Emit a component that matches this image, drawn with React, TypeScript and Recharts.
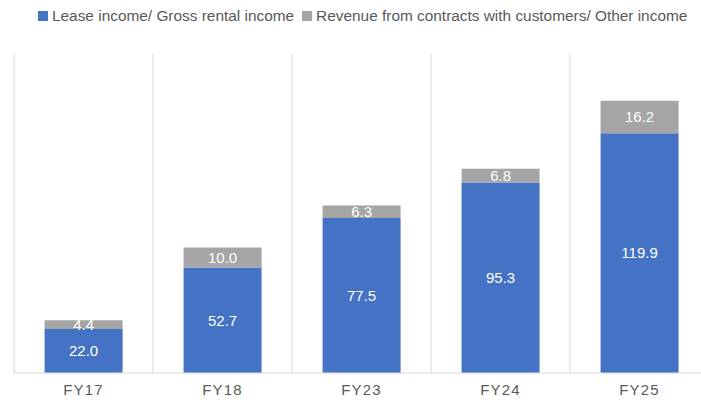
import React from "react";
import { Bar, BarChart, CartesianGrid, LabelList, XAxis, YAxis } from "recharts";

const years = ["FY17", "FY18", "FY23", "FY24", "FY25"];
const leaseIncome = [22.0, 52.7, 77.5, 95.3, 119.9];
const otherIncome = [4.4, 10.0, 6.3, 6.8, 16.2];

const seriesNames = ["Lease income/ Gross rental income", "Revenue from contracts with customers/ Other income"];
const seriesColors = ["#4472C4", "#A5A5A5"];

const data = years.map((year, i) => ({ year, lease: leaseIncome[i], other: otherIncome[i] }));

const fmt = (v: any) => Number(v).toFixed(1);
const font = "'Liberation Sans', Arial, sans-serif";

export default function App() {
  return (
    <div style={{ position: "absolute", left: 0, top: 0, width: 701, height: 402, overflow: "hidden", background: "#fff" }}>
      <div
        style={{
          position: "absolute",
          top: 7,
          left: 38,
          display: "flex",
          alignItems: "center",
          fontFamily: font,
          fontSize: 15.4,
          lineHeight: "18px",
          color: "#595959",
          whiteSpace: "nowrap",
        }}
      >
        {seriesNames.map((name, i) => (
          <span key={name} style={{ display: "flex", alignItems: "center", marginRight: 8 }}>
            <span style={{ width: 10, height: 10, background: seriesColors[i], marginRight: 4, display: "inline-block" }} />
            {name}
          </span>
        ))}
      </div>
      <BarChart
        width={710}
        height={402}
        data={data}
        margin={{ top: 53, right: 1, left: 14, bottom: 0 }}
        barCategoryGap="22%"
      >
        <CartesianGrid
          horizontal={false}
          stroke="#D9D9D9"
          verticalCoordinatesGenerator={({ offset }: any) =>
            years.map((_, i) => offset.left + (i * offset.width) / years.length).concat(offset.left + offset.width)
          }
        />
        <XAxis
          dataKey="year"
          height={29}
          tickLine={false}
          axisLine={{ stroke: "#D9D9D9" }}
          tick={{ fill: "#595959", fontSize: 15, letterSpacing: 1.2, fontFamily: font }}
          tickMargin={5}
        />
        <YAxis hide domain={[0, 160]} />
        <Bar dataKey="lease" stackId="a" fill={seriesColors[0]} isAnimationActive={false}>
          <LabelList dataKey="lease" position="center" formatter={fmt} fill="#fff" fontSize={15} fontFamily={font} />
        </Bar>
        <Bar dataKey="other" stackId="a" fill={seriesColors[1]} isAnimationActive={false}>
          <LabelList dataKey="other" position="center" formatter={fmt} fill="#fff" fontSize={15} fontFamily={font} />
        </Bar>
      </BarChart>
    </div>
  );
}
